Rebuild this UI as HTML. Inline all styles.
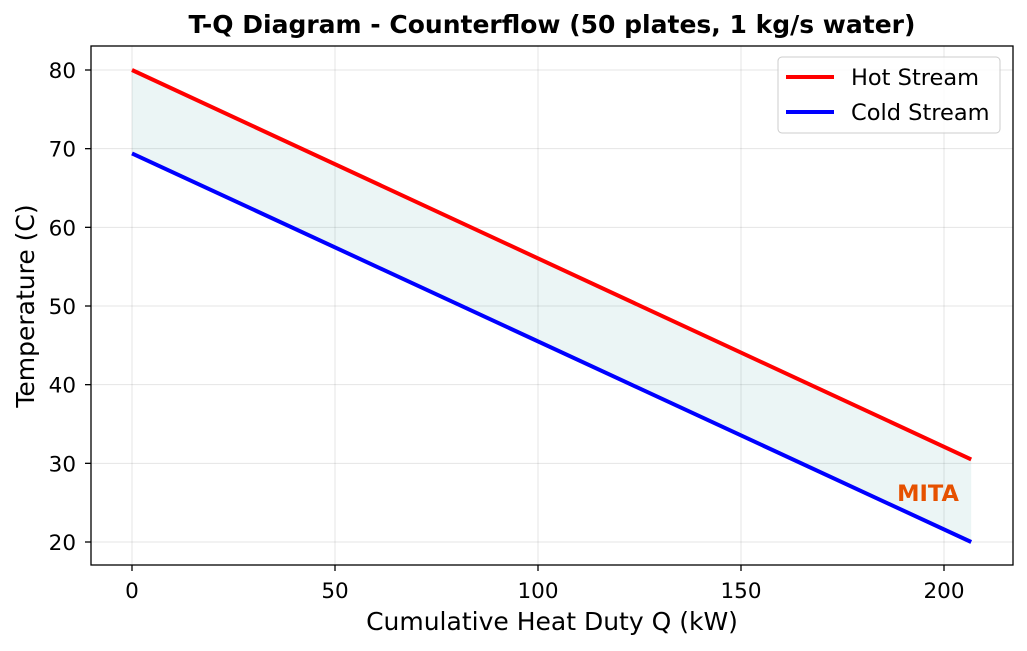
<!DOCTYPE html>
<html><head><meta charset="utf-8"><style>
body{margin:0;background:#fff;}
svg{display:block;font-family:"DejaVu Sans","Liberation Sans",sans-serif;}
</style></head><body>
<svg id="chart" width="1027" height="651" viewBox="0 0 1027 651">
<rect width="1027" height="651" fill="#fff"/>
<text x="552" y="33" text-anchor="middle" font-size="25" font-weight="bold">T-Q Diagram - Counterflow (50 plates, 1 kg/s water)</text>
<g id="grid"></g>
<g id="fill"></g>
<g id="lines"></g>
<rect x="91" y="46" width="922" height="519" fill="none" stroke="#000" stroke-width="1.3"/>
<g id="ticks"></g>
<text x="552" y="630" text-anchor="middle" font-size="25">Cumulative Heat Duty Q (kW)</text>
<text transform="translate(34,306) rotate(-90)" text-anchor="middle" font-size="25">Temperature (C)</text>
<text x="928" y="501" text-anchor="middle" font-size="22.5" font-weight="bold" fill="#e65100">MITA</text>
<g>
<rect x="778" y="57" width="222" height="76" rx="4" fill="#fff" fill-opacity="0.85" stroke="#ccc"/>
<line x1="786" y1="77" x2="834" y2="77" stroke="#ff0000" stroke-width="4"/>
<text x="851" y="85" font-size="22.5">Hot Stream</text>
<line x1="786" y1="112" x2="834" y2="112" stroke="#0000ff" stroke-width="4"/>
<text x="851" y="120" font-size="22.5">Cold Stream</text>
</g>
</svg>
<script>
const qValues=[0,206.7];
const hotTemps=[80,30.5];
const coldTemps=[69.4,20];
const xTicks=[0,50,100,150,200];
const yTicks=[20,30,40,50,60,70,80];
const NS="http://www.w3.org/2000/svg";
const xs=v=>132+v*(944-132)/200;
const ys=v=>542-(v-20)*(542-70)/60;
function mk(tag,attrs,parent){const e=document.createElementNS(NS,tag);for(const k in attrs)e.setAttribute(k,attrs[k]);document.getElementById(parent).appendChild(e);return e;}
xTicks.forEach(t=>{
 const g=mk('line',{x1:xs(t),x2:xs(t),y1:46,y2:565,stroke:'#000','stroke-opacity':0.1,'stroke-width':1},'grid');
 
 
 const k=mk('line',{x1:xs(t),x2:xs(t),y1:565,y2:571,stroke:'#000','stroke-width':1.3},'ticks');
 
 
 const l=mk('text',{x:xs(t),y:598,'text-anchor':'middle','font-size':21.5},'ticks');l.textContent=t;
 
 
});
yTicks.forEach(t=>{
 const g=mk('line',{x1:91,x2:1013,y1:ys(t),y2:ys(t),stroke:'#000','stroke-opacity':0.1,'stroke-width':1},'grid');
 
 
 const k=mk('line',{x1:85,x2:91,y1:ys(t),y2:ys(t),stroke:'#000','stroke-width':1.3},'ticks');
 
 
 const l=mk('text',{x:76,y:ys(t)+8,'text-anchor':'end','font-size':21.5},'ticks');l.textContent=t;
 
 
});
let pts=qValues.map((q,i)=>xs(q)+','+ys(hotTemps[i]));
for(let i=qValues.length-1;i>=0;i--)pts.push(xs(qValues[i])+','+ys(coldTemps[i]));
const f=mk('polygon',{points:pts.join(' '),fill:'#008080','fill-opacity':0.08},'fill');


const h=mk('polyline',{points:qValues.map((q,i)=>xs(q)+','+ys(hotTemps[i])).join(' '),fill:'none',stroke:'#ff0000','stroke-width':4},'lines');


const c=mk('polyline',{points:qValues.map((q,i)=>xs(q)+','+ys(coldTemps[i])).join(' '),fill:'none',stroke:'#0000ff','stroke-width':4},'lines');


</script>
</body></html>
